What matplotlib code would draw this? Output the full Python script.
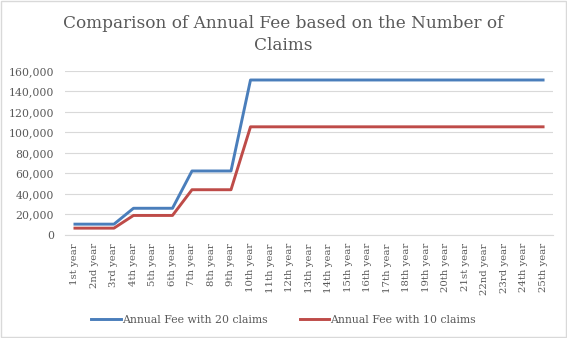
import matplotlib.pyplot as plt
from matplotlib.ticker import FuncFormatter

years = ['1st year', '2nd year', '3rd year'] + [f'{n}th year' for n in range(4, 21)] + \
        ['21st year', '22nd year', '23rd year', '24th year', '25th year']
fee_20 = [10500, 10500, 10500, 26000, 26000, 26000, 62400, 62400, 62400] + [151200] * 16
fee_10 = [6600, 6600, 6600, 19000, 19000, 19000, 44100, 44100, 44100] + [105500] * 16

plt.rcParams['font.family'] = ['DejaVu Serif']
grey = '#595959'

fig = plt.figure(figsize=(5.67, 3.38), dpi=100)
ax = fig.add_axes([0.115, 0.305, 0.86, 0.485])

x = range(len(years))
ax.plot(x, fee_20, color='#4A7EBB', lw=2.1, label='Annual Fee with 20 claims')
ax.plot(x, fee_10, color='#BE4B48', lw=2.1, label='Annual Fee with 10 claims')

ax.set_xlim(-0.5, len(years) - 0.5)
ax.set_ylim(0, 160000)
ax.set_yticks(range(0, 160001, 20000))
ax.yaxis.set_major_formatter(FuncFormatter(lambda v, p: f'{int(v):,}'))
ax.set_xticks(list(x))
ax.set_xticklabels(years, rotation=90, fontsize=7.3, color=grey)
ax.tick_params(axis='y', labelsize=7.8, colors=grey, length=0, pad=8)
ax.tick_params(axis='x', length=0, pad=6)
ax.grid(axis='y', color='#d9d9d9', lw=0.8)
ax.set_axisbelow(True)
for s in ['top', 'right', 'left']:
    ax.spines[s].set_visible(False)
ax.spines['bottom'].set_color('#d9d9d9')

fig.suptitle('Comparison of Annual Fee based on the Number of\nClaims',
             fontsize=12.2, color=grey, y=0.955, linespacing=1.35)
fig.legend(loc='lower center', bbox_to_anchor=(0.5, 0.01), ncol=2, frameon=False,
           fontsize=7.8, labelcolor=grey, handlelength=2.7, handletextpad=0.1,
           columnspacing=3.0)

fig.patches.append(plt.Rectangle((0.002, 0.003), 0.996, 0.994, transform=fig.transFigure,
                                 fill=False, edgecolor='#d9d9d9', lw=1))
fig.savefig('out.png', dpi=100)
